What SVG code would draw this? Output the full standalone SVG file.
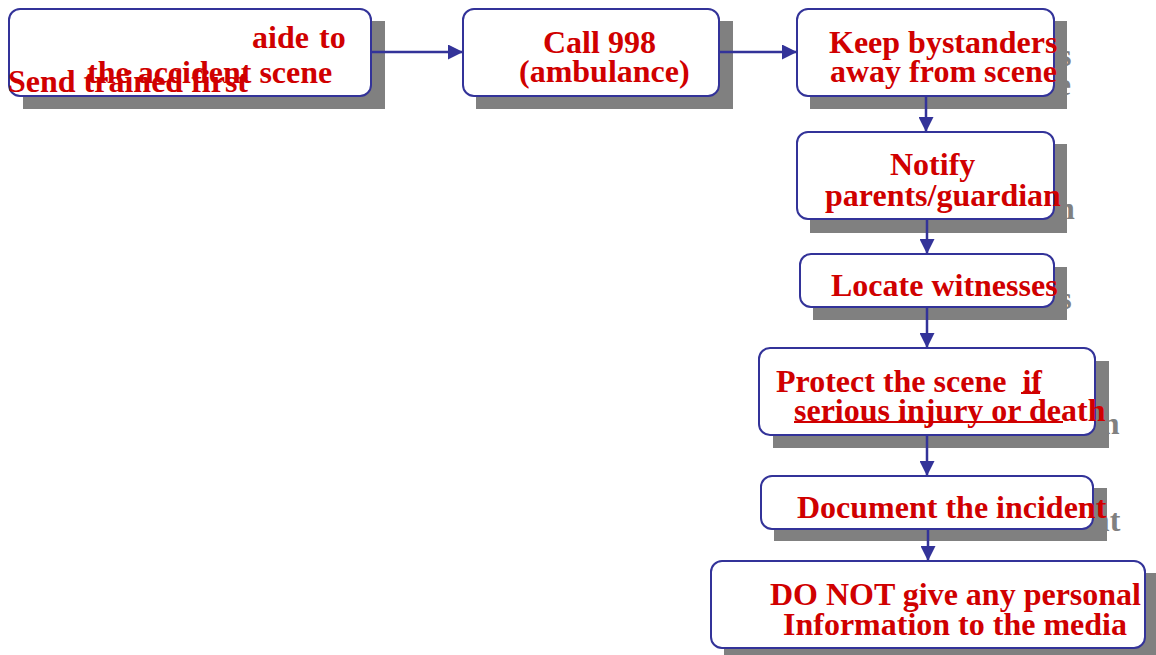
<svg xmlns="http://www.w3.org/2000/svg" width="1156" height="655" viewBox="0 0 1156 655">
<style>
.sh{fill:#808080}
.box{fill:#ffffff;stroke:#333399;stroke-width:2}
.t{font-family:"Liberation Serif","Times New Roman",serif;font-weight:bold;font-size:32px;fill:#D00000}
.ts{font-family:"Liberation Serif","Times New Roman",serif;font-weight:bold;font-size:32px;fill:#808080}
.c{stroke:#333399;stroke-width:2.5;fill:none}
.ul{stroke:#D00000;stroke-width:2}
</style>
<defs>
<marker id="ah" viewBox="0 0 10 10" refX="10" refY="5" markerWidth="6" markerHeight="6" orient="auto" markerUnits="strokeWidth">
<path d="M0,0 L10,5 L0,10 z" fill="#333399"/>
</marker>
</defs>
<rect width="1156" height="655" fill="#ffffff"/>
<g id="n1">
<rect class="sh" x="23" y="21" width="362" height="88"/>
<rect class="box" x="9" y="9" width="362" height="87" rx="11"/>
<text class="t" x="252" y="48">aide<tspan x="319">to</tspan></text>
<text class="t" x="87" y="83">the accident scene</text>
<text class="t" x="8" y="92">Send trained first</text>
</g>
<g id="n2">
<rect class="sh" x="476" y="21" width="257" height="88"/>
<rect class="box" x="463" y="9" width="256" height="87" rx="11"/>
<text class="t" x="543" y="53">Call 998</text>
<text class="t" x="519" y="82">(ambulance)</text>
</g>
<g id="n3">
<rect class="sh" x="810" y="21" width="257" height="88"/>
<text class="ts" x="843" y="66">Keep bystanders</text>
<text class="ts" x="844" y="95">away from scene</text>
<rect class="box" x="797" y="9" width="257" height="87" rx="11"/>
<text class="t" x="829" y="53">Keep bystanders</text>
<text class="t" x="830" y="82">away from scene</text>
</g>
<g id="n4">
<rect class="sh" x="810" y="144" width="257" height="89"/>
<text class="ts" x="904" y="188">Notify</text>
<text class="ts" x="839" y="219">parents/guardian</text>
<rect class="box" x="797" y="132" width="257" height="87" rx="11"/>
<text class="t" x="890" y="175">Notify</text>
<text class="t" x="825" y="206">parents/guardian</text>
</g>
<g id="n5">
<rect class="sh" x="813" y="267" width="254" height="53"/>
<text class="ts" x="845" y="309">Locate witnesses</text>
<rect class="box" x="800" y="254" width="254" height="53" rx="11"/>
<text class="t" x="831" y="296">Locate witnesses</text>
</g>
<g id="n6">
<rect class="sh" x="773" y="361" width="336" height="87"/>
<text class="ts" x="790" y="405" xml:space="preserve">Protect the scene  if</text>
<text class="ts" x="808" y="434">serious injury or death</text>
<rect class="box" x="759" y="348" width="336" height="87" rx="11"/>
<text class="t" x="776" y="392" xml:space="preserve">Protect the scene  if</text>
<line class="ul" x1="1021" y1="393" x2="1040" y2="393"/>
<text class="t" x="794" y="421">serious injury or death</text>
<line class="ul" x1="794" y1="422" x2="1063" y2="422"/>
</g>
<g id="n7">
<rect class="sh" x="774" y="488" width="333" height="53"/>
<text class="ts" x="811" y="531">Document the incident</text>
<rect class="box" x="761" y="476" width="332" height="53" rx="11"/>
<text class="t" x="797" y="518">Document the incident</text>
</g>
<g id="n8">
<rect class="sh" x="724" y="573" width="434" height="84"/>
<rect class="box" x="711" y="561" width="434" height="87" rx="11"/>
<text class="t" x="770" y="605">DO NOT give any personal</text>
<text class="t" x="783" y="635">Information to the media</text>
</g>
<g id="connectors">
<line class="c" x1="372" y1="52" x2="463" y2="52" marker-end="url(#ah)"/>
<line class="c" x1="720" y1="52" x2="797" y2="52" marker-end="url(#ah)"/>
<line class="c" x1="926" y1="97" x2="926" y2="132" marker-end="url(#ah)"/>
<line class="c" x1="927" y1="220" x2="927" y2="254" marker-end="url(#ah)"/>
<line class="c" x1="927" y1="308" x2="927" y2="348" marker-end="url(#ah)"/>
<line class="c" x1="927" y1="436" x2="927" y2="476" marker-end="url(#ah)"/>
<line class="c" x1="928" y1="530" x2="928" y2="561" marker-end="url(#ah)"/>
</g>
</svg>
